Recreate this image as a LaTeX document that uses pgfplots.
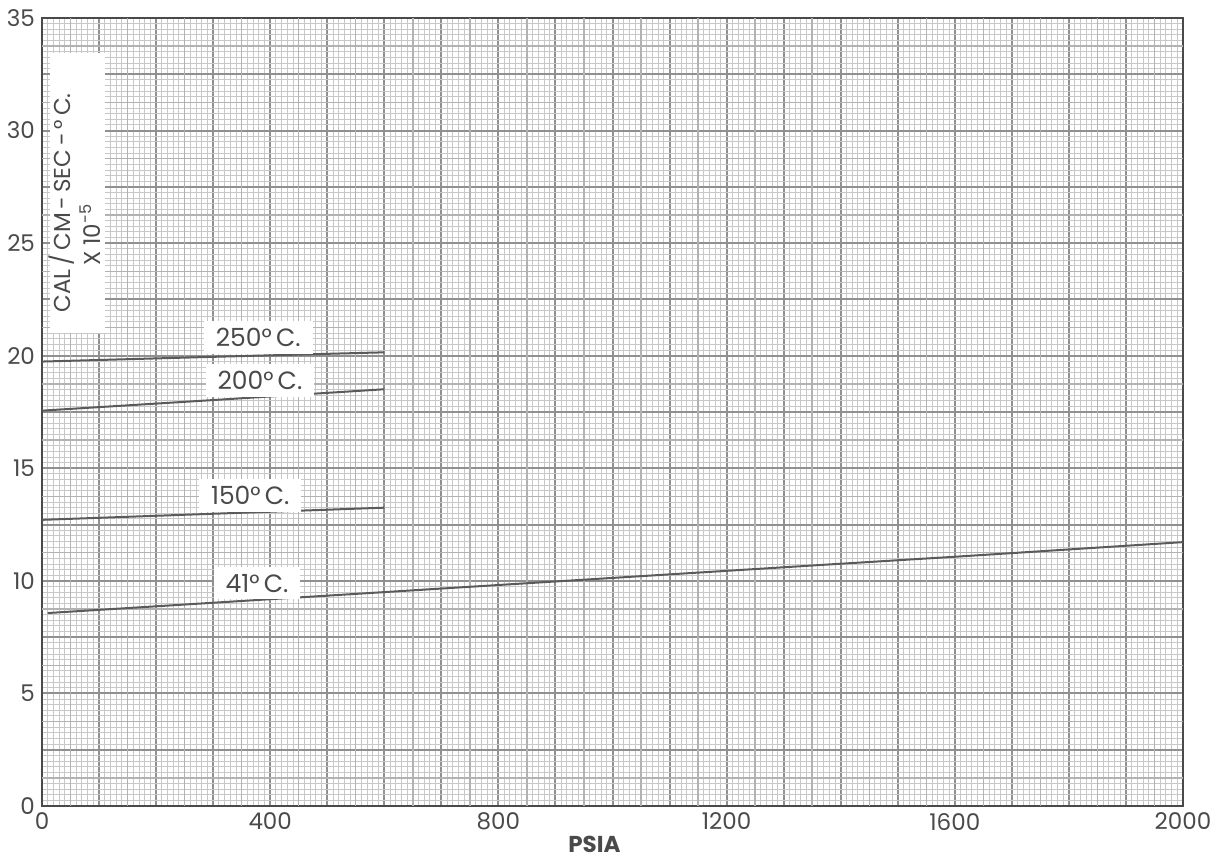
\documentclass[border=0pt]{standalone}
\usepackage{pgfplots}
\pgfplotsset{compat=1.18}
\usepackage{fontspec}
\setmainfont{Poppins}
\definecolor{ink}{HTML}{4A4A4A}
\definecolor{curve}{HTML}{5A5A5A}
\definecolor{finegrid}{HTML}{C8C8C8}
\definecolor{midgrid}{HTML}{B2B2B2}
\definecolor{majgrid}{HTML}{909090}

\begin{document}
\begin{tikzpicture}
\begin{axis}[
  scale only axis,
  width=570.5pt, height=394pt,
  xmin=0, xmax=2000, ymin=0, ymax=35,
  xtick={0,100,...,2000},
  xticklabels={0,,,,400,,,,800,,,,1200,,,,1600,,,,2000},
  ytick={0,2.5,...,35},
  yticklabels={0,,5,,10,,15,,20,,25,,30,,35},
  minor x tick num=9, minor y tick num=9,
  grid=both,
  minor grid style={line width=0.45pt, color=finegrid},
  major grid style={line width=1pt, color=majgrid},
  extra x ticks={50,150,...,1950},
  extra y ticks={1.25,3.75,...,33.75},
  extra x tick labels={}, extra y tick labels={},
  extra tick style={grid=major, major grid style={line width=0.7pt, color=midgrid}},
  major tick length=0pt, minor tick length=0pt,
  axis line style={line width=0.9pt, color=ink},
  ticklabel style={font=\fontsize{11.5}{13}\selectfont, text=ink},
  xticklabel style={yshift=0pt},
  /pgf/number format/assume math mode=true,
  xlabel={\bfseries PSIA},
  xlabel style={font=\fontsize{11.5}{13}\selectfont, text=ink, yshift=4pt, xshift=-9pt},
]
% 41 deg C isotherm, full pressure range
\addplot[curve, line width=1pt] coordinates {
  (10,8.57) (600,9.50) (1000,10.13) (1400,10.76) (1600,11.07) (2000,11.72)};
% 150, 200 and 250 deg C isotherms up to 600 psia
\addplot[curve, line width=1pt] coordinates {(0,12.71) (300,12.98) (600,13.25)};
\addplot[curve, line width=1pt] coordinates {(0,17.56) (300,18.03) (600,18.51)};
\addplot[curve, line width=1pt] coordinates {(0,19.74) (300,19.95) (600,20.15)};

% white panel carrying the unit label
\fill[white] (axis cs:14,21.0) rectangle (axis cs:111,33.45);
\node[rotate=90, text=ink, font=\fontsize{11.5}{13}\selectfont]
  at (axis cs:35,26.79) {CAL\,/\,CM\,-\,SEC\,-\,°\,C.};
\node[rotate=90, text=ink, font=\fontsize{11.5}{13}\selectfont]
  at (axis cs:84,25.37) {X 10\textsuperscript{-5}};

% isotherm labels
\tikzset{iso/.style={fill=white, text=ink, inner xsep=6pt, inner ysep=3.5pt,
  font=\fontsize{12.5}{14}\selectfont}}
\node[iso] at (axis cs:379,20.8) {250°\,C.};
\node[iso] at (axis cs:382,18.9) {200°\,C.};
\node[iso] at (axis cs:365,13.8) {150°\,C.};
\node[iso] at (axis cs:377,9.9) {41°\,C.};
\end{axis}
\pgfresetboundingbox
\path[use as bounding box]
  ([shift={(-21pt,-27.5pt)}]current axis.south west)
  rectangle ([shift={(17pt,9pt)}]current axis.north east);
\end{tikzpicture}
\end{document}
